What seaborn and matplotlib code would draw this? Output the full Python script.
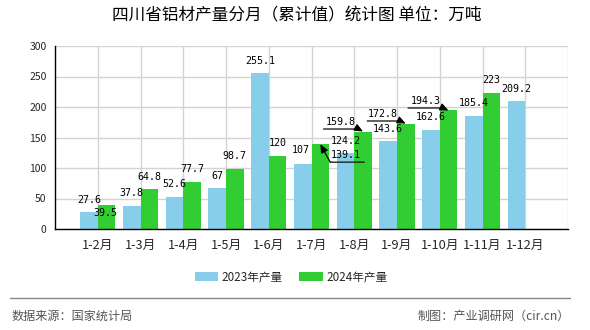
import numpy as np
import pandas as pd
import matplotlib
matplotlib.use("Agg")
import matplotlib.pyplot as plt
import matplotlib.transforms as mtransforms
from matplotlib.patches import Patch
import seaborn as sns

categories = ["1-2月", "1-3月", "1-4月", "1-5月", "1-6月", "1-7月",
              "1-8月", "1-9月", "1-10月", "1-11月", "1-12月"]
values_2023 = [27.6, 37.8, 52.6, 67, 255.1, 107, 124.2, 143.6, 162.6, 185.4, 209.2]
values_2024 = [39.5, 64.8, 77.7, 98.7, 120, 139.1, 159.8, 172.8, 194.3, 223, np.nan]
series_names = ["2023年产量", "2024年产量"]
colors = ["#87CEEB", "#32CD32"]
yticks = [0, 50, 100, 150, 200, 250, 300]

sns.set_style("white")
plt.rcParams["font.family"] = ["Noto Sans CJK SC", "DejaVu Sans"]

df = pd.DataFrame({
    "月份": categories * 2,
    "产量": values_2023 + values_2024,
    "系列": [series_names[0]] * len(categories) + [series_names[1]] * len(categories),
})

fig = plt.figure(figsize=(5.9, 3.3), dpi=100)
W, H = 590, 330
ax = fig.add_axes([55 / W, 1 - 229 / H, (568 - 55) / W, (229 - 46) / H])

sns.barplot(data=df, x="月份", y="产量", hue="系列", palette=colors,
            width=0.82, dodge=True, ax=ax, saturation=1, errorbar=None,
            order=categories, hue_order=series_names,
            linewidth=0, edgecolor="none")
if ax.get_legend() is not None:
    ax.get_legend().remove()

ax.set_xlim(-1, 11)
ax.set_ylim(0, 300)
ax.set_yticks(yticks)
ax.set_yticklabels([str(t) for t in yticks], fontsize=7.5)
ax.set_xticks(list(range(12)))
ax.set_xticklabels(categories + [""], fontsize=9.2)
ax.set_xlabel("")
ax.set_ylabel("")
ax.grid(True, color="#d3d3d3", lw=1)
ax.set_axisbelow(True)
for s in ["top", "right"]:
    ax.spines[s].set_visible(False)
for s in ["left", "bottom"]:
    ax.spines[s].set_color("black")
    ax.spines[s].set_linewidth(1)
ax.tick_params(axis="both", direction="out", length=4, width=1, color="black", pad=2)
ax.tick_params(axis="x", pad=3)

PX = 0.72  # points per pixel at 100 dpi
half = 0.82 / 4
mono = "DejaVu Sans Mono"

# special label placements (pixel offsets from bar top, y downward)
special = {
    (1, 0): dict(text=(-1, 8)),
    (0, 5): dict(text=(-2, -13.5)),
    (1, 5): dict(text=(26, 11), line=((10, 18), (44, 18)), arrow_from=(10, 18)),
    (1, 6): dict(text=(-22.5, -9.5), line=((-39.5, -2.5), (-4.5, -2.5)), arrow_from=(-4.5, -2.5)),
    (1, 7): dict(text=(-22.5, -9.6), line=((-38.5, -2.6), (-5.5, -2.6)), arrow_from=(-5.5, -2.6)),
    (1, 8): dict(text=(-22.5, -9.5), line=((-40.5, -2.5), (-5.5, -2.5)), arrow_from=(-5.5, -2.5)),
}

for j, vals in enumerate([values_2023, values_2024]):
    for i, v in enumerate(vals):
        if v is None or np.isnan(v):
            continue
        x = i - half if j == 0 else i + half
        spec = special.get((j, i), {})
        tx, ty = spec.get("text", (0, -12.5))
        ax.annotate(f"{v:g}", xy=(x, v), xytext=(tx * PX, -ty * PX),
                    textcoords="offset points", ha="center", va="center",
                    fontsize=7.2, family=mono, color="black", zorder=5)
        if "line" in spec:
            (x1, y1), (x2, y2) = spec["line"]
            start_tr = mtransforms.offset_copy(ax.transData, fig=fig,
                                               x=x1 * PX, y=-y1 * PX, units="points")
            ax.annotate("", xy=(x, v), xycoords=start_tr,
                        xytext=((x2 - x1) * PX, -(y2 - y1) * PX),
                        textcoords="offset points",
                        arrowprops=dict(arrowstyle="-", color="#222222", lw=1,
                                        shrinkA=0, shrinkB=0), zorder=5)
            ax_, ay_ = spec["arrow_from"]
            ax.annotate("", xy=(x, v), xytext=(ax_ * PX, -ay_ * PX),
                        textcoords="offset points",
                        arrowprops=dict(arrowstyle="-|>,head_length=0.5,head_width=0.22",
                                        color="black", lw=0.9, shrinkA=0, shrinkB=0),
                        zorder=5)

fig.text(297 / W, 1 - 16 / H, "四川省铝材产量分月（累计值）统计图 单位：万吨",
         ha="center", va="center", fontsize=12, color="black")

handles = [Patch(facecolor=c, edgecolor="none") for c in colors]
fig.legend(handles, series_names, loc="center", bbox_to_anchor=(291 / W, 1 - 277 / H),
           ncol=2, frameon=False, fontsize=8.4, handlelength=2.0, handleheight=0.8,
           handletextpad=0.3, columnspacing=1.4)

fig.add_artist(plt.Line2D([10 / W, 570 / W], [1 - 298 / H, 1 - 298 / H],
                          color="#888888", lw=1, transform=fig.transFigure))
fig.text(12 / W, 1 - 316 / H, "数据来源：国家统计局", ha="left", va="center",
         fontsize=8.7, color="#555555")
fig.text(570 / W, 1 - 316 / H, "制图：产业调研网（cir.cn）", ha="right", va="center",
         fontsize=8.7, color="#555555")

fig.savefig("out.png", dpi=100)
